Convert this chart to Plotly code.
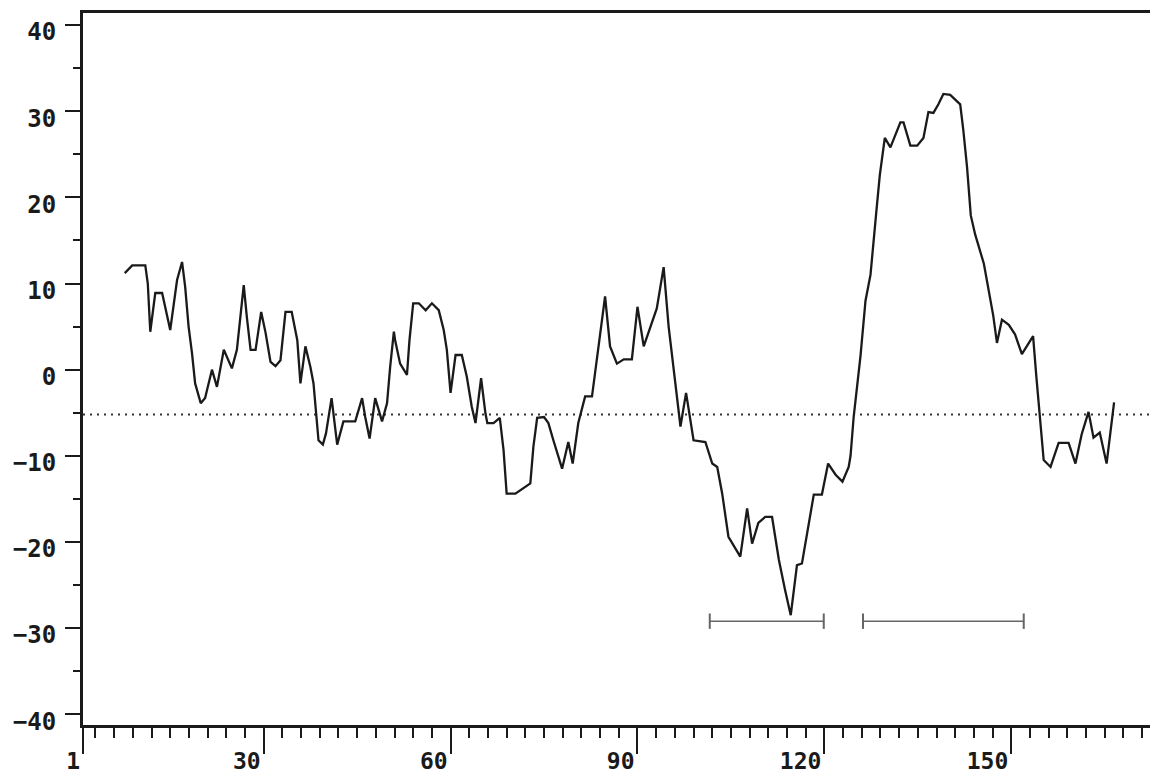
import plotly.graph_objects as go

# Hydropathy profile (residue position, value)
residue = [7.7, 8.9, 11.0, 11.4, 11.8, 12.6, 13.7, 15.0, 16.1, 16.9, 17.4, 17.95, 18.5, 19.0, 19.9,
           20.6, 21.7, 22.5, 23.6, 24.9, 25.7, 26.2, 26.8, 27.3, 27.9, 28.7, 29.6, 30.3, 31.1, 31.9,
           32.7, 33.5, 34.5, 35.4, 35.9, 36.7, 37.5, 38.0, 38.3, 38.8, 39.5, 40.0, 40.9, 41.8, 42.8,
           44.7, 45.8, 46.3, 47.0, 47.9, 49.0, 49.8, 50.3, 50.9, 51.1, 51.9, 53.0, 53.4, 54.0, 54.9,
           56.0, 57.0, 58.1, 58.9, 59.4, 60.0, 60.8, 61.8, 62.6, 63.4, 64.0, 64.9, 65.6, 65.9, 66.9,
           67.9, 68.5, 69.0, 70.4, 72.0, 72.8, 73.3, 73.9, 75.0, 75.7, 76.5, 77.9, 78.9, 79.6, 80.5,
           81.6, 82.7, 83.5, 83.9, 84.8, 85.6, 86.7, 87.8, 89.1, 90.0, 91.0, 93.1, 94.2, 95.0, 96.1,
           96.9, 97.8, 99.0, 100.9, 102.0, 102.8, 103.6, 104.6, 106.5, 107.6, 108.4, 109.4, 110.5, 111.6,
           112.7, 113.7, 114.6, 115.6, 116.4, 118.3, 119.6, 120.6, 121.8, 122.9, 123.9, 124.2, 124.7,
           125.8, 126.6, 127.4, 127.9, 128.4, 128.9, 129.7, 130.6, 132.2, 132.7, 133.8, 134.9, 135.9,
           136.7, 137.5, 138.3, 139.1, 140.2, 141.8, 142.3, 142.9, 143.5, 144.2, 145.6, 146.4, 147.1,
           147.7, 148.5, 149.6, 150.6, 151.7, 152.5, 153.5, 154.0, 154.6, 155.2, 156.3, 157.6, 159.2,
           160.3, 161.3, 162.4, 163.2, 164.2, 165.3, 165.9, 166.5]
hydropathy = [11.2, 12.1, 12.1, 10.0, 4.4, 8.9, 8.9, 4.6, 10.4, 12.5, 9.6, 5.0, 1.9, -1.6, -3.9,
              -3.3, 0.0, -2.0, 2.3, 0.15, 2.3, 6.1, 9.8, 6.1, 2.3, 2.3, 6.7, 4.3, 0.9, 0.4,
              1.1, 6.7, 6.7, 3.4, -1.6, 2.7, 0.3, -1.6, -3.9, -8.2, -8.7, -7.4, -3.3, -8.7, -6.0,
              -6.0, -3.3, -5.5, -8.0, -3.3, -6.0, -3.9, 0.3, 4.4, 3.4, 0.7, -0.6, 3.4, 7.7, 7.7,
              6.9, 7.7, 6.9, 4.6, 2.3, -2.7, 1.7, 1.7, -0.8, -4.3, -6.2, -1.0, -5.1, -6.2, -6.2,
              -5.6, -9.3, -14.4, -14.4, -13.6, -13.2, -8.9, -5.6, -5.5, -6.2, -8.2, -11.5, -8.4, -10.9, -6.2,
              -3.1, -3.1, 1.1, 3.6, 8.5, 2.7, 0.7, 1.2, 1.2, 7.3, 2.7, 7.1, 11.9, 5.0, -1.6,
              -6.6, -2.7, -8.2, -8.4, -10.9, -11.3, -14.4, -19.4, -21.7, -16.1, -20.2, -17.8, -17.1, -17.1,
              -22.1, -25.6, -28.5, -22.7, -22.5, -14.5, -14.5, -10.9, -12.2, -13.0, -11.3, -10.0, -5.5,
              1.6, 8.0, 11.0, 15.3, 18.8, 22.6, 26.9, 25.8, 28.7, 28.7, 26.0, 26.0, 26.9,
              29.9, 29.8, 30.8, 32.0, 31.9, 30.8, 27.8, 23.5, 17.9, 15.7, 12.3, 9.3, 6.3,
              3.1, 5.8, 5.2, 4.1, 1.8, 2.8, 3.9, -0.6, -5.3, -10.5, -11.3, -8.5, -8.5,
              -10.9, -7.5, -4.9, -7.9, -7.3, -10.9, -7.5, -3.8]

# Average (dotted) level
mean_level = -5.2

# Predicted segments (brackets)
segment_start = [101.6, 126.2]
segment_end = [119.9, 152.0]
segment_level = -29.2

x_ticks = [1, 30, 60, 90, 120, 150]
y_ticks = [-40, -30, -20, -10, 0, 10, 20, 30, 40]

x_range = [1, 173.55]
y_range = [-41.25, 41.4]

FONT = "DejaVu Sans Mono"
NBSP = "\u00a0"

fig = go.Figure()

# dotted mean line
fig.add_trace(go.Scatter(
    x=x_range, y=[mean_level, mean_level], mode="lines",
    line=dict(color="#333333", width=2, dash="2px,5px"),
    hoverinfo="skip", showlegend=False))

# brackets
for s, e in zip(segment_start, segment_end):
    fig.add_trace(go.Scatter(
        x=[s, e], y=[segment_level, segment_level], mode="lines+markers",
        line=dict(color="#666666", width=1.5),
        marker=dict(symbol="line-ns-open", size=11, line=dict(color="#222222", width=2)),
        hoverinfo="skip", showlegend=False))

# profile
fig.add_trace(go.Scatter(
    x=residue, y=hydropathy, mode="lines",
    line=dict(color="#1a1a1a", width=2.3),
    showlegend=False))

# the page body adds an 8px margin, so the figure is sized to fill the window exactly
fig.update_layout(
    width=1150, height=769,
    margin=dict(l=75, r=0, t=5, b=52),
    plot_bgcolor="white", paper_bgcolor="white",
    font=dict(family=FONT, size=24, color="#1a1a1a"),
)

fig.update_xaxes(
    range=x_range, showgrid=False, zeroline=False, automargin=False,
    showline=True, linewidth=3, linecolor="#1a1a1a", mirror=True,
    ticks="outside", ticklen=26, tickwidth=2, tickcolor="#1a1a1a",
    tickvals=x_ticks,
    ticktext=[str(v) + NBSP * len(str(v)) for v in x_ticks],
    ticklabelshift=-3,
    ticklabelstandoff=-13,
    tickfont=dict(family=FONT, size=23, color="#1a1a1a", weight="bold"),
    minor=dict(tick0=0, dtick=3, ticks="outside", ticklen=10, tickwidth=2, tickcolor="#1a1a1a", showgrid=False),
)

fig.update_yaxes(
    range=y_range, showgrid=False, zeroline=False, automargin=False,
    showline=True, linewidth=3, linecolor="#1a1a1a", mirror=False,
    ticks="outside", ticklen=15, tickwidth=2, tickcolor="#1a1a1a",
    tickvals=y_ticks,
    ticklabelstandoff=4,
    ticklabelshift=7,
    tickfont=dict(family=FONT, size=24, color="#1a1a1a", weight="bold"),
    minor=dict(tick0=0, dtick=5, ticks="outside", ticklen=7, tickwidth=2, tickcolor="#1a1a1a", showgrid=False),
)

fig.write_html("out.html")
